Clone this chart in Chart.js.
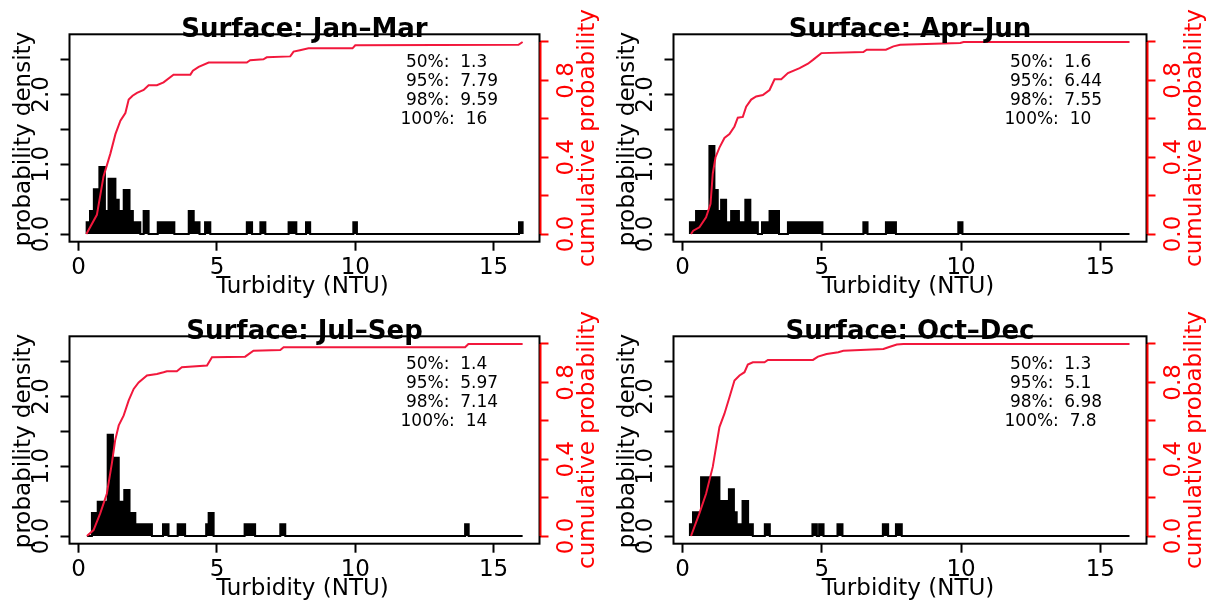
<!DOCTYPE html>
<html>
<head>
<meta charset="utf-8">
<script src="https://cdn.jsdelivr.net/npm/chart.js@4/dist/chart.umd.min.js"></script>
<style>
  html, body { margin: 0; padding: 0; background: #ffffff; }
  #wrap { position: relative; width: 1213px; height: 608px; overflow: hidden; background: #ffffff; }
  canvas { position: absolute; }
</style>
</head>
<body>
<div id="wrap">
  <canvas id="p1" width="606" height="304" style="left:0px;top:0px"></canvas>
  <canvas id="p2" width="609" height="304" style="left:604px;top:0px"></canvas>
  <canvas id="p3" width="606" height="304" style="left:0px;top:302px"></canvas>
  <canvas id="p4" width="609" height="304" style="left:604px;top:302px"></canvas>
</div>
<script>
// ---------------- data ----------------
const panelTitles = ["Surface: Jan\u2013Mar", "Surface: Apr\u2013Jun", "Surface: Jul\u2013Sep", "Surface: Oct\u2013Dec"];
const xAxisTitle = "Turbidity (NTU)";
const densityAxisTitle = "probability density";
const cumulativeAxisTitle = "cumulative probability";
const xTickValues = [0, 5, 10, 15];
const densityTickValues = [0, 0.5, 1, 1.5, 2, 2.5];
const densityTickLabels = ["0.0", "", "1.0", "", "2.0", ""];
const cumulativeTickValues = [0, 0.2, 0.4, 0.6, 0.8, 1.0];
const cumulativeTickLabels = ["0.0", "", "0.4", "", "0.8", ""];
const quantileNames = [" 50%:", " 95%:", " 98%:", "100%:"];

// Jan-Mar
const janMarEdges = [0.29,0.41,0.55,0.75,0.95,1.08,1.33,1.45,1.63,1.84,1.96,2.23,2.35,2.53,2.86,3.46,3.98,4.16,4.37,4.57,4.76,6.08,6.27,6.57,6.75,7.59,7.87,8.22,8.37,9.93,10.06,15.92,16.05];
const janMarDensity = [0.17,0.33,0.64,0.96,0.33,0.79,0.49,0.33,0.63,0.33,0.17,0,0.33,0,0.17,0,0.33,0.17,0,0.17,0,0.17,0,0.17,0,0.17,0,0.17,0,0.17,0,0.17];
const janMarEcdfX = [0.28,0.66,0.90,1.15,1.33,1.51,1.69,1.81,1.95,2.11,2.35,2.53,2.83,3.07,3.43,4.04,4.13,4.34,4.70,6.08,6.20,6.68,6.80,7.65,7.77,8.00,8.31,9.90,10.00,15.90,16.05];
const janMarEcdfP = [0,0.10,0.30,0.42,0.52,0.59,0.63,0.70,0.72,0.735,0.75,0.775,0.775,0.79,0.83,0.83,0.85,0.87,0.893,0.893,0.905,0.91,0.92,0.925,0.95,0.957,0.967,0.967,0.983,0.985,1.0];
const janMarQuantiles = ["1.3", "7.79", "9.59", "16"];

// Apr-Jun
const aprJunEdges = [0.26,0.48,0.96,1.14,1.26,1.38,1.56,1.74,2.02,2.25,2.43,2.70,2.85,3.12,3.46,3.78,5.02,6.49,6.64,7.30,7.66,9.90,10.05,16.05];
const aprJunDensity = [0.17,0.33,1.26,0.63,0.33,0.49,0.17,0.33,0.17,0.49,0.17,0,0.17,0.33,0,0.17,0,0.17,0,0.17,0,0.17,0];
const aprJunEcdfX = [0.30,0.38,0.60,0.84,1.00,1.08,1.18,1.32,1.50,1.68,1.86,1.98,2.16,2.28,2.46,2.64,2.88,3.12,3.30,3.54,3.78,4.20,4.50,4.68,4.98,6.49,6.61,7.30,7.57,7.81,9.97,10.09,16.05];
const aprJunEcdfP = [0,0.017,0.035,0.087,0.157,0.314,0.40,0.45,0.50,0.52,0.56,0.606,0.61,0.663,0.70,0.716,0.724,0.75,0.806,0.806,0.838,0.864,0.887,0.907,0.942,0.948,0.96,0.96,0.977,0.986,0.995,1.0,1.0];
const aprJunQuantiles = ["1.6", "6.44", "7.55", "10"];

// Jul-Sep
const julSepEdges = [0.30,0.48,0.69,1.05,1.24,1.45,1.65,1.84,2.05,2.65,3.05,3.25,3.58,3.85,4.61,4.70,4.88,6.00,6.38,7.29,7.47,13.97,14.10,16.05];
const julSepDensity = [0,0.33,0.49,1.45,1.12,0.49,0.66,0.33,0.17,0,0.17,0,0.17,0,0.17,0.33,0,0.17,0,0.17,0,0.17,0];
const julSepEcdfX = [0.30,0.54,0.78,1.02,1.20,1.32,1.45,1.63,1.81,1.99,2.17,2.47,2.83,3.07,3.19,3.55,3.73,4.64,4.82,6.02,6.32,7.29,7.41,13.97,14.09,16.05];
const julSepEcdfP = [0,0.031,0.118,0.22,0.377,0.498,0.576,0.628,0.706,0.766,0.80,0.836,0.844,0.853,0.858,0.858,0.879,0.888,0.931,0.934,0.965,0.969,0.983,0.983,1.0,1.0];
const julSepQuantiles = ["1.4", "5.97", "7.14", "14"];

// Oct-Dec
const octDecEdges = [0.26,0.37,0.66,1.32,1.66,1.84,1.94,2.15,2.35,2.52,2.95,3.13,4.66,4.82,4.90,5.06,5.56,5.74,7.19,7.38,7.66,7.87,16.05];
const octDecDensity = [0.17,0.34,0.84,0.50,0.67,0.34,0.17,0.50,0.17,0,0.17,0,0.17,0,0.17,0,0.17,0,0.17,0,0.17,0];
const octDecEcdfX = [0.30,0.60,0.84,1.08,1.20,1.32,1.50,1.68,1.86,2.04,2.22,2.34,2.52,2.94,3.06,4.68,4.86,5.17,5.59,5.77,7.21,7.39,7.69,7.93,16.05];
const octDecEcdfP = [0,0.118,0.22,0.36,0.464,0.567,0.637,0.723,0.81,0.836,0.853,0.893,0.905,0.905,0.917,0.917,0.934,0.948,0.957,0.965,0.974,0.983,0.997,1.0,1.0];
const octDecQuantiles = ["1.3", "5.1", "6.98", "7.8"];

// ---------------- rendering ----------------
const RED = "#ff0000";
const LINE_RED = "#f2183c";
const FONT = '"DejaVu Sans", "Liberation Sans", sans-serif';
Chart.defaults.font.family = FONT;
Chart.defaults.color = "#000000";

function histogramPoints(edges, dens) {
  const pts = [{ x: edges[0], y: 0 }];
  for (let i = 0; i < dens.length; i++) pts.push({ x: edges[i], y: dens[i] });
  pts.push({ x: edges[edges.length - 1], y: 0 });
  return pts;
}
function linePoints(xs, ps) {
  return xs.map((x, i) => ({ x: x, y: ps[i] }));
}

const decorPlugin = {
  id: "decor",
  afterDatasetsDraw(chart) {
    const cfg = chart.options.plugins.decor;
    const { ctx, chartArea: a } = chart;
    const cx = (a.left + a.right) / 2;
    const cy = (a.top + a.bottom) / 2;
    ctx.save();
    // box
    ctx.strokeStyle = "#000";
    ctx.lineWidth = 2;
    ctx.strokeRect(a.left, a.top, a.right - a.left, a.bottom - a.top);
    // red right axis line (0..1)
    const y2 = chart.scales.y2;
    ctx.strokeStyle = RED;
    ctx.lineWidth = 2;
    ctx.beginPath();
    ctx.moveTo(a.right + 1, y2.getPixelForValue(0));
    ctx.lineTo(a.right + 1, y2.getPixelForValue(1));
    ctx.stroke();
    // main title
    ctx.fillStyle = "#000";
    ctx.textBaseline = "alphabetic";
    ctx.textAlign = "center";
    ctx.font = "bold 26px " + FONT;
    ctx.fillText(cfg.title, cx, a.top + 2.5);
    // quantile text
    ctx.font = "17px " + FONT;
    ctx.textAlign = "left";
    cfg.names.forEach((n, i) => {
      ctx.fillText(n + "  " + cfg.values[i], a.left + 331, a.top + 32.7 + 19 * i);
    });
    // x title
    ctx.font = "23px " + FONT;
    ctx.textAlign = "center";
    ctx.fillText(xAxisTitle, cx - 2, a.bottom + 51.6);
    // left y title
    ctx.save();
    ctx.translate(a.left - 40, cy + 1);
    ctx.rotate(-Math.PI / 2);
    ctx.fillText(densityAxisTitle, 0, 0);
    ctx.restore();
    // right y title
    ctx.fillStyle = RED;
    ctx.save();
    ctx.translate(a.right + 54, cy);
    ctx.rotate(-Math.PI / 2);
    ctx.fillText(cumulativeAxisTitle, 0, 0);
    ctx.restore();
    ctx.restore();
  }
};

function makePanel(id, title, edges, dens, ex, ep, quant) {
  const ctx = document.getElementById(id);
  return new Chart(ctx, {
    type: "line",
    data: {
      datasets: [
        {
          label: "cumulative probability",
          data: linePoints(ex, ep),
          yAxisID: "y2",
          borderColor: LINE_RED,
          borderWidth: 2,
          pointRadius: 0,
          fill: false,
          tension: 0,
          order: 0
        },
        {
          label: "probability density",
          data: histogramPoints(edges, dens),
          yAxisID: "y",
          stepped: "before",
          borderColor: "#000000",
          backgroundColor: "#000000",
          borderWidth: 2,
          pointRadius: 0,
          fill: "origin",
          order: 1
        }
      ]
    },
    options: {
      responsive: false,
      animation: false,
      events: [],
      layout: { padding: { top: 34.3, left: 0, right: 0, bottom: 0 } },
      plugins: {
        legend: { display: false },
        tooltip: { enabled: false },
        title: { display: false },
        decor: { title: title, names: quantileNames, values: quant }
      },
      scales: {
        x: {
          type: "linear",
          min: -0.33,
          max: 16.66,
          afterBuildTicks: (s) => { s.ticks = xTickValues.map(v => ({ value: v })); },
          afterFit: (s) => { s.height = 62.3; },
          ticks: {
            autoSkip: false,
            maxRotation: 0,
            minRotation: 0,
            padding: 4,
            color: "#000",
            font: { size: 23 },
            callback: (v) => String(v)
          },
          grid: {
            display: true,
            drawOnChartArea: false,
            drawTicks: true,
            tickLength: 9,
            tickColor: "#000",
            tickWidth: 2,
            color: "#000"
          },
          border: { display: false }
        },
        y: {
          type: "linear",
          position: "left",
          min: -0.11,
          max: 2.86,
          afterBuildTicks: (s) => { s.ticks = densityTickValues.map(v => ({ value: v })); },
          afterFit: (s) => { s.width = 69.5; },
          ticks: {
            autoSkip: false,
            minRotation: 90,
            maxRotation: 90,
            crossAlign: "center",
            padding: 0,
            color: "#000",
            font: { size: 23 },
            callback: (v, i) => densityTickLabels[i]
          },
          grid: {
            display: true,
            drawOnChartArea: false,
            drawTicks: true,
            tickLength: 9,
            tickColor: "#000",
            tickWidth: 2,
            color: "#000"
          },
          border: { display: false }
        },
        y2: {
          type: "linear",
          position: "right",
          min: -0.04,
          max: 1.04,
          afterBuildTicks: (s) => { s.ticks = cumulativeTickValues.map(v => ({ value: v })); },
          afterFit: (s) => { s.width = 66.5; },
          ticks: {
            autoSkip: false,
            minRotation: 90,
            maxRotation: 90,
            crossAlign: "center",
            padding: 0,
            color: RED,
            font: { size: 23 },
            callback: (v, i) => cumulativeTickLabels[i]
          },
          grid: {
            display: true,
            drawOnChartArea: false,
            drawTicks: true,
            tickLength: 9,
            tickColor: RED,
            tickWidth: 2,
            color: RED
          },
          border: { display: false }
        }
      }
    },
    plugins: [decorPlugin]
  });
}

makePanel("p1", panelTitles[0], janMarEdges, janMarDensity, janMarEcdfX, janMarEcdfP, janMarQuantiles);
makePanel("p2", panelTitles[1], aprJunEdges, aprJunDensity, aprJunEcdfX, aprJunEcdfP, aprJunQuantiles);
makePanel("p3", panelTitles[2], julSepEdges, julSepDensity, julSepEcdfX, julSepEcdfP, julSepQuantiles);
makePanel("p4", panelTitles[3], octDecEdges, octDecDensity, octDecEcdfX, octDecEcdfP, octDecQuantiles);
</script>
</body>
</html>
